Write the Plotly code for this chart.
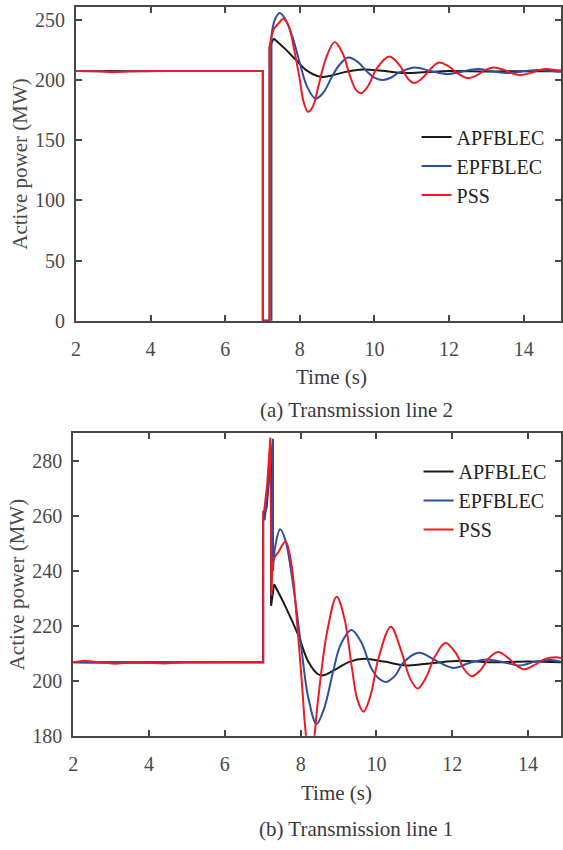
import plotly.graph_objects as go

# ---------------- Transmission line 2 (upper panel) ----------------
# fault window: step part drawn with straight segments
l2_apf_step_t = [2.0, 7.01, 7.01, 7.19, 7.19, 7.30]
l2_apf_step_p = [207.5, 207.5, 0.0, 0.0, 227.5, 234.5]
l2_apf_swing_t = [7.30, 7.60, 7.90, 8.20, 8.55, 8.85, 9.20, 9.70, 10.20, 10.80, 11.40, 12.0, 13.0, 14.0, 15.0]
l2_apf_swing_p = [234.5, 226.0, 216.5, 207.5, 202.6, 203.6, 206.5, 208.7, 207.6, 205.8, 206.6, 207.4, 207.0, 207.3, 207.2]

l2_epf_step_t = [2.0, 3.0, 4.5, 7.01, 7.01, 7.24, 7.24]
l2_epf_step_p = [207.4, 207.1, 207.5, 207.5, 0.0, 0.0, 236.0]
l2_epf_swing_t = [7.24, 7.32, 7.46, 7.60, 7.80, 8.00, 8.20, 8.42, 8.62, 8.85, 9.05, 9.30, 9.55, 9.80, 10.0, 10.22,
                  10.45, 10.65, 11.07, 11.50, 11.96, 12.36, 12.76, 13.20, 13.60, 14.0, 14.40, 14.80, 15.0]
l2_epf_swing_p = [236.0, 249.0, 255.5, 251.0, 236.0, 214.0, 194.0, 184.5, 189.0, 202.0, 212.0, 218.6, 215.0, 207.0,
                  202.0, 200.0, 202.0, 206.0, 210.4, 207.5, 204.9, 207.0, 209.0, 207.0, 205.8, 207.2, 208.3, 207.2, 206.8]

l2_pss_step_t = [2.0, 2.6, 3.0, 3.4, 4.2, 4.6, 5.0, 7.01, 7.01, 7.19, 7.19]
l2_pss_step_p = [207.5, 207.3, 206.3, 207.3, 207.5, 207.2, 207.5, 207.5, 0.0, 0.0, 227.5]
l2_pss_swing_t = [7.19, 7.30, 7.42, 7.56, 7.70, 7.85, 8.00, 8.10, 8.22, 8.35, 8.50, 8.70, 8.93, 9.15, 9.35, 9.50,
                  9.65, 9.85, 10.05, 10.40, 10.70, 10.90, 11.07, 11.30, 11.50, 11.73, 12.0, 12.25, 12.49, 12.75,
                  12.95, 13.20, 13.50, 13.70, 13.91, 14.20, 14.40, 14.62, 14.85, 15.0]
l2_pss_swing_p = [227.5, 242.0, 246.5, 250.8, 245.0, 225.0, 200.0, 182.0, 173.5, 178.0, 195.0, 218.0, 231.4, 222.0,
                  203.0, 192.0, 189.0, 196.0, 209.0, 219.4, 211.0, 201.0, 197.5, 202.0, 209.0, 214.5, 211.0, 205.0,
                  201.6, 204.0, 208.0, 210.4, 208.0, 205.5, 204.0, 206.0, 208.0, 209.0, 208.2, 207.8]

# ---------------- Transmission line 1 (lower panel) ----------------
l1_apf_step_t = [2.0, 7.01, 7.01, 7.10, 7.22, 7.22, 7.30]
l1_apf_step_p = [206.8, 206.8, 259.0, 263.0, 282.0, 227.3, 235.1]
l1_apf_swing_t = [7.30, 7.60, 7.94, 8.20, 8.45, 8.60, 8.90, 9.30, 9.68, 10.20, 10.82, 11.50, 12.20, 13.0, 14.0, 14.87]
l1_apf_swing_p = [235.1, 227.0, 216.5, 207.0, 202.5, 202.0, 204.0, 207.0, 208.0, 207.0, 205.6, 206.5, 207.3, 206.8,
                  207.0, 206.8]

l1_epf_step_t = [2.0, 3.1, 4.4, 7.01, 7.01, 7.05, 7.12, 7.27, 7.27]
l1_epf_step_p = [206.8, 206.5, 206.7, 206.8, 259.0, 258.5, 268.0, 288.0, 240.0]
l1_epf_swing_t = [7.27, 7.33, 7.46, 7.60, 7.80, 8.00, 8.20, 8.42, 8.62, 8.85, 9.05, 9.34, 9.60, 9.85, 10.05, 10.25,
                  10.50, 10.70, 11.12, 11.55, 12.03, 12.45, 12.90, 13.35, 13.78, 14.20, 14.60, 14.87]
l1_epf_swing_p = [240.0, 249.0, 255.1, 251.0, 235.0, 214.0, 194.0, 184.3, 190.0, 203.0, 213.0, 218.5, 214.0, 205.0,
                  201.0, 199.6, 202.0, 206.5, 210.2, 207.5, 204.7, 206.5, 207.8, 206.8, 205.6, 207.0, 207.6, 207.0]

l1_pss_step_t = [2.0, 2.3, 2.7, 3.1, 3.6, 4.4, 4.9, 7.01, 7.01, 7.04, 7.12, 7.20, 7.23, 7.25]
l1_pss_step_p = [206.8, 207.3, 206.8, 206.2, 206.8, 206.3, 206.8, 206.8, 261.5, 262.0, 272.0, 288.5, 231.0, 241.0]
l1_pss_swing_t = [7.25, 7.30, 7.42, 7.60, 7.75, 7.90, 8.05, 8.12, 8.22, 8.32, 8.45, 8.70, 8.95, 9.15, 9.35, 9.50,
                  9.66, 9.85, 10.05, 10.38, 10.65, 10.90, 11.09, 11.30, 11.55, 11.82, 12.10, 12.30, 12.51, 12.75,
                  12.95, 13.21, 13.50, 13.70, 13.90, 14.20, 14.45, 14.73, 14.87]
l1_pss_swing_p = [241.0, 244.5, 247.0, 250.7, 243.0, 222.0, 196.0, 183.0, 172.5, 176.0, 192.0, 218.0, 230.6, 223.0,
                  205.0, 193.0, 188.8, 195.0, 208.0, 219.7, 211.0, 200.5, 197.2, 201.0, 209.0, 213.8, 210.0, 204.5,
                  201.7, 204.0, 208.0, 210.5, 208.0, 205.5, 204.2, 206.0, 208.0, 208.6, 208.3]

series_names = ["APFBLEC", "EPFBLEC", "PSS"]
series_colors = ["#1a1a1a", "#2f4ea1", "#ec1c24"]

x_ticks = [2, 4, 6, 8, 10, 12, 14]
y_ticks_l2 = [0, 50, 100, 150, 200, 250]
y_ticks_l1 = [180, 200, 220, 240, 260, 280]

W, H = 563, 850
FONT = "Liberation Serif, Times New Roman, serif"
AXIS_COLOR = "#474747"

panels = [
    dict(xa="x", ya="y", legend="legend",
         data=[(l2_apf_step_t, l2_apf_step_p, l2_apf_swing_t, l2_apf_swing_p),
               (l2_epf_step_t, l2_epf_step_p, l2_epf_swing_t, l2_epf_swing_p),
               (l2_pss_step_t, l2_pss_step_p, l2_pss_swing_t, l2_pss_swing_p)]),
    dict(xa="x2", ya="y2", legend="legend2",
         data=[(l1_apf_step_t, l1_apf_step_p, l1_apf_swing_t, l1_apf_swing_p),
               (l1_epf_step_t, l1_epf_step_p, l1_epf_swing_t, l1_epf_swing_p),
               (l1_pss_step_t, l1_pss_step_p, l1_pss_swing_t, l1_pss_swing_p)]),
]

fig = go.Figure()
for k, panel in enumerate(panels):
    for name, color, (ts, ps, tw, pw) in zip(series_names, series_colors, panel["data"]):
        group = f"{name}-{k}"
        fig.add_trace(go.Scatter(
            x=ts, y=ps, mode="lines", name=name, legendgroup=group, showlegend=True,
            legend=panel["legend"], xaxis=panel["xa"], yaxis=panel["ya"],
            line=dict(color=color, width=2, shape="linear"), hoverinfo="skip"))
        fig.add_trace(go.Scatter(
            x=tw, y=pw, mode="lines", name=name, legendgroup=group, showlegend=False,
            legend=panel["legend"], xaxis=panel["xa"], yaxis=panel["ya"],
            line=dict(color=color, width=2, shape="spline", smoothing=1.0), hoverinfo="skip"))


def px_x(v):
    return v / W


def px_y(v):
    return 1 - v / H


axis_common = dict(
    showline=True, linecolor=AXIS_COLOR, linewidth=2, mirror="ticks",
    ticks="inside", ticklen=6, tickwidth=1.5, tickcolor=AXIS_COLOR,
    showgrid=False, zeroline=False,
    tickfont=dict(family=FONT, size=20, color="#4a4a4a"),
)
x_common = dict(axis_common, ticklabelstandoff=9)
y_common = dict(axis_common, ticklabelstandoff=5)
ytitle = dict(text="Active power (MW)", standoff=2,
              font=dict(family=FONT, size=21, color="#4a4a4a"))
legend_common = dict(xanchor="left", yanchor="top", bgcolor="rgba(0,0,0,0)",
                     tracegroupgap=0, font=dict(family=FONT, size=20, color="#222222"))

fig.update_layout(
    width=W, height=H,
    margin=dict(l=0, r=0, t=0, b=0),
    paper_bgcolor="white", plot_bgcolor="white",
    font=dict(family=FONT, color="#333333"),
    xaxis=dict(x_common, domain=[px_x(71.7), px_x(562)], range=[2, 15],
               tickvals=x_ticks, anchor="y"),
    yaxis=dict(y_common, domain=[px_y(325), px_y(7.3)], range=[0, 260.4],
               tickvals=y_ticks_l2, anchor="x", title=ytitle),
    xaxis2=dict(x_common, domain=[px_x(69), px_x(562)], range=[2, 14.87],
                tickvals=x_ticks, anchor="y2"),
    yaxis2=dict(y_common, domain=[px_y(745.5), px_y(439)], range=[180, 290],
                tickvals=y_ticks_l1, anchor="x2", title=ytitle),
    legend=dict(legend_common, x=px_x(416), y=px_y(119)),
    legend2=dict(legend_common, x=px_x(418), y=px_y(458)),
)

labels = [
    ("Time (s)", 330, 382),
    ("(a) Transmission line 2", 355, 415),
    ("Time (s)", 335, 803),
    ("(b) Transmission line 1", 355, 840),
]
for text, cx, cy in labels:
    fig.add_annotation(text=text, xref="paper", yref="paper", x=px_x(cx), y=px_y(cy),
                       xanchor="center", yanchor="middle", showarrow=False,
                       font=dict(family=FONT, size=21, color="#3a3a3a"))

fig.write_html("out.html")
